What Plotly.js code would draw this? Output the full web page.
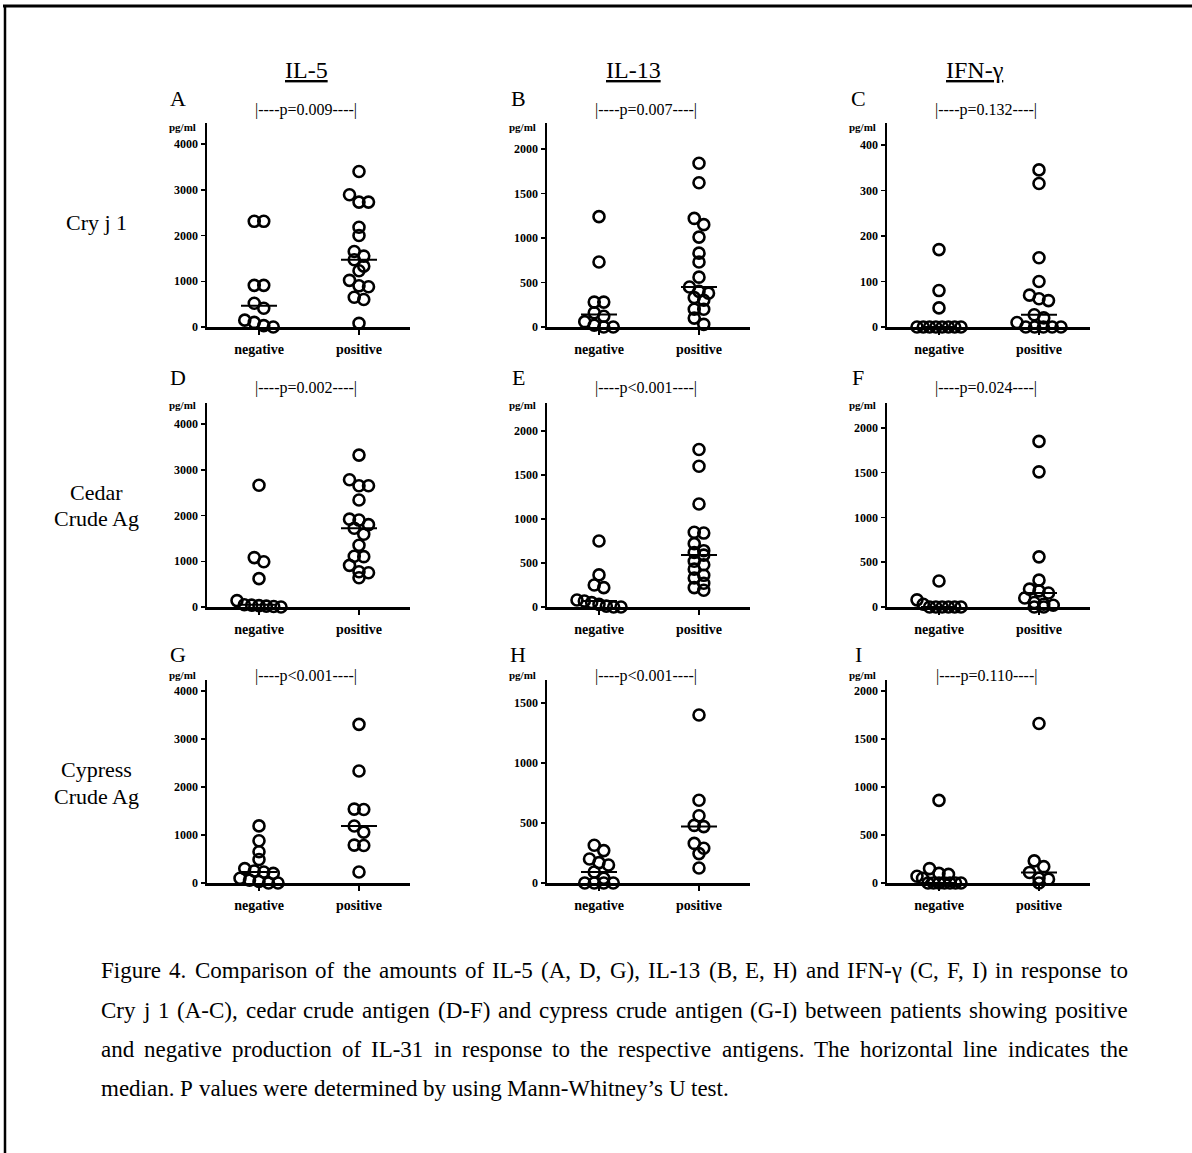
<!DOCTYPE html>
<html>
<head>
<meta charset="utf-8">
<script src="https://cdn.plot.ly/plotly-3.0.1.min.js"></script>
<style>html,body{margin:0;padding:0;background:#fff;overflow:hidden;}#chart{width:1192px;height:1153px;}</style>
</head>
<body>
<div id="chart"></div>
<script>
// ---------------- DATA ----------------
const categories = ['negative', 'positive'];
const columnTitles = ['IL-5', 'IL-13', 'IFN-γ'];
const rowLabels = [['Cry j 1'], ['Cedar', 'Crude Ag'], ['Cypress', 'Crude Ag']];
const panelLetters = ['A', 'B', 'C', 'D', 'E', 'F', 'G', 'H', 'I'];
const pValues = ['p=0.009', 'p=0.007', 'p=0.132', 'p=0.002', 'p<0.001', 'p=0.024', 'p<0.001', 'p<0.001', 'p=0.110'];
const yUnit = 'pg/ml';

// Cry j 1
const A_negative = [2310, 2310, 910, 910, 520, 410, 150, 100, 30, 0];
const A_positive = [3400, 2890, 2730, 2730, 2180, 2000, 1650, 1550, 1470, 1330, 1230, 1020, 900, 880, 650, 600, 80];
const B_negative = [1240, 730, 280, 280, 160, 120, 60, 20, 0, 0];
const B_positive = [1840, 1620, 1220, 1150, 1010, 830, 730, 560, 450, 400, 380, 330, 300, 200, 200, 100, 30];
const C_negative = [170, 80, 42, 0, 0, 0, 0, 0, 0, 0, 0];
const C_positive = [345, 315, 152, 100, 70, 62, 58, 27, 20, 10, 0, 0, 0, 0, 0];
// Cedar crude Ag
const D_negative = [2660, 1080, 990, 620, 140, 50, 40, 30, 20, 10, 0];
const D_positive = [3320, 2780, 2650, 2650, 2340, 1920, 1900, 1800, 1720, 1590, 1350, 1110, 1100, 910, 770, 750, 640];
const E_negative = [750, 365, 250, 220, 80, 68, 50, 30, 10, 0, 0];
const E_positive = [1790, 1600, 1170, 850, 840, 720, 640, 620, 590, 520, 480, 430, 360, 330, 270, 220, 190];
const F_negative = [290, 80, 30, 0, 0, 0, 0, 0, 0];
const F_positive = [1850, 1510, 560, 300, 200, 180, 157, 100, 50, 30, 20, 0, 0];
// Cypress crude Ag
const G_negative = [1190, 880, 650, 490, 300, 250, 229, 200, 100, 60, 30, 0, 0];
const G_positive = [3305, 2333, 1540, 1530, 1187, 1060, 790, 780, 230];
const H_negative = [315, 270, 200, 170, 150, 92, 40, 0, 0, 0, 0];
const H_positive = [1400, 690, 560, 480, 470, 330, 290, 245, 125];
const I_negative = [860, 150, 100, 90, 70, 50, 0, 0, 0, 0, 0, 0, 0];
const I_positive = [1660, 230, 170, 110, 50, 40, 0];

// tick labels
const ticks4000 = [0, 1000, 2000, 3000, 4000];
const ticks2000 = [0, 500, 1000, 1500, 2000];
const ticks1500 = [0, 500, 1000, 1500];
const ticks400 = [0, 100, 200, 300, 400];

const captionLines = [
  'Figure 4. Comparison of the amounts of IL-5 (A, D, G), IL-13 (B, E, H) and IFN-γ (C, F, I) in response to',
  'Cry j 1 (A-C), cedar crude antigen (D-F) and cypress crude antigen (G-I) between patients showing positive',
  'and negative production of IL-31 in response to the respective antigens. The horizontal line indicates the',
  'median. P values were determined by using Mann-Whitney’s U test.'
];

// ---------------- LAYOUT / GEOMETRY ----------------
const W = 1192, H = 1153;
const px = x => x / W;
const py = y => 1 - y / H;
const SERIF = '"Liberation Serif", "Times New Roman", serif';

const panelData = [
  [A_negative, A_positive], [B_negative, B_positive], [C_negative, C_positive],
  [D_negative, D_positive], [E_negative, E_positive], [F_negative, F_positive],
  [G_negative, G_positive], [H_negative, H_positive], [I_negative, I_positive]
];
const panelTicks = [ticks4000, ticks2000, ticks400, ticks4000, ticks2000, ticks2000, ticks4000, ticks1500, ticks2000];
const panelYMax = [4459, 2292, 448, 4459, 2318, 2279, 4229, 1692, 2113];

const axisX = [207, 547, 887];      // pixel x of y-axis line
const axisLen = 203;                 // pixel length of x-axis
const zeroY = [327, 607, 883];       // pixel y of zero line
const topY = [123, 403, 680];        // pixel y of axis top
const catPx = 100;                   // pixels per category unit
const xRange = [-0.52, 1.51];

// Prism-like column scatter layout (computed from values in pixel space)
function swarmOffsets(values, pxPerUnit) {
  const ROW_GAP = 7.5, SPACING = 9.5, MAX_SPAN = 44;
  const idx = values.map((v, i) => i).sort((a, b) => values[b] - values[a]);
  const offs = new Array(values.length).fill(0);
  const rows = [];
  let cur = null;
  idx.forEach(i => {
    const yp = values[i] * pxPerUnit;
    if (cur && cur.y0 - yp < ROW_GAP) cur.items.push(i);
    else { cur = { y0: yp, items: [i] }; rows.push(cur); }
  });
  rows.forEach(r => {
    const n = r.items.length;
    if (n < 2) return;
    const sp = Math.min(SPACING, MAX_SPAN / (n - 1));
    r.items.forEach((i, k) => { offs[i] = (k - (n - 1) / 2) * sp / catPx; });
  });
  return offs;
}
function median(arr) {
  const s = arr.slice().sort((a, b) => a - b);
  const n = s.length;
  return n % 2 ? s[(n - 1) / 2] : (s[n / 2 - 1] + s[n / 2]) / 2;
}

const traces = [];
const layout = {
  width: W, height: H,
  margin: { l: 0, r: 0, t: 0, b: 0 },
  paper_bgcolor: '#ffffff', plot_bgcolor: 'rgba(0,0,0,0)',
  showlegend: false, hovermode: false,
  font: { family: SERIF, color: '#000' },
  annotations: [], shapes: []
};

for (let k = 0; k < 9; k++) {
  const r = Math.floor(k / 3), c = k % 3;
  const sfx = k === 0 ? '' : String(k + 1);
  const xa = 'x' + sfx, ya = 'y' + sfx;
  const yMax = panelYMax[k];
  const pxPerUnit = (zeroY[r] - topY[r]) / yMax;

  layout['xaxis' + sfx] = {
    domain: [px(axisX[c]), px(axisX[c] + axisLen)],
    range: xRange, anchor: ya,
    showgrid: false, zeroline: false,
    showline: true, linecolor: '#000', linewidth: 2.5,
    ticks: 'outside', ticklen: 5, tickwidth: 1.5, tickcolor: '#000',
    tickvals: [0, 1], ticktext: categories,
    ticklabelstandoff: 3,
    tickfont: { family: SERIF, size: 14, color: '#000', weight: 'bold' },
    fixedrange: true
  };
  layout['yaxis' + sfx] = {
    domain: [py(zeroY[r]), py(topY[r])],
    range: [0, yMax], anchor: xa,
    showgrid: false, zeroline: false,
    showline: true, linecolor: '#000', linewidth: 2.5,
    ticks: 'outside', ticklen: 4, tickwidth: 1.5, tickcolor: '#000',
    tickvals: panelTicks[k], ticktext: panelTicks[k].map(String),
    tickfont: { family: SERIF, size: 12, color: '#000', weight: 'bold' },
    fixedrange: true
  };

  panelData[k].forEach((vals, g) => {
    const offs = swarmOffsets(vals, pxPerUnit);
    traces.push({
      type: 'scatter', mode: 'markers', xaxis: xa, yaxis: ya,
      x: vals.map((v, i) => g + offs[i]), y: vals,
      cliponaxis: false,
      marker: { symbol: 'circle-open', size: 11, color: '#000', line: { width: 2.6, color: '#000' } }
    });
    const m = median(vals);
    traces.push({
      type: 'scatter', mode: 'lines', xaxis: xa, yaxis: ya,
      x: [g - 0.18, g + 0.18], y: [m, m], cliponaxis: false,
      line: { color: '#000', width: 2 }
    });
  });

  // panel letter
  layout.annotations.push({
    xref: 'paper', yref: 'paper', x: px(axisX[c] - 29), y: py(98 + r * 279 - (r === 2 ? 2 : 0)),
    text: panelLetters[k], showarrow: false, xanchor: 'center', yanchor: 'middle',
    font: { family: SERIF, size: 22, color: '#000' }
  });
  // p value bracket
  layout.annotations.push({
    xref: 'paper', yref: 'paper', x: px(axisX[c] + 99), y: py([110, 388, 676][r]),
    text: '|----' + pValues[k] + '----|', showarrow: false, xanchor: 'center', yanchor: 'middle',
    font: { family: SERIF, size: 16, color: '#000' }
  });
  // unit
  layout.annotations.push({
    xref: 'paper', yref: 'paper', x: px(axisX[c] - 25), y: py([127, 405, 675][r]),
    text: yUnit, showarrow: false, xanchor: 'center', yanchor: 'middle',
    font: { family: SERIF, size: 11, color: '#000', weight: 'bold' }
  });
}

// column headers
[306, 633, 975].forEach((x, c) => {
  layout.annotations.push({
    xref: 'paper', yref: 'paper', x: px(x), y: py(70),
    text: '<u>' + columnTitles[c] + '</u>', showarrow: false, xanchor: 'center', yanchor: 'middle',
    font: { family: SERIF, size: 24, color: '#000' }
  });
});

// row labels
const rowLabelY = [[222], [492, 518], [769, 796]];
rowLabels.forEach((lines, r) => {
  lines.forEach((t, i) => {
    layout.annotations.push({
      xref: 'paper', yref: 'paper', x: px(96), y: py(rowLabelY[r][i]),
      text: t, showarrow: false, xanchor: 'center', yanchor: 'middle',
      font: { family: SERIF, size: 22, color: '#000' }
    });
  });
});

// caption, justified (lines 1-3) between x0 and x1
const capSize = 23, capX0 = 100, capX1 = 1127, capY = [970, 1010, 1049, 1088];
const cnv = document.createElement('canvas').getContext('2d');
cnv.font = capSize + 'px "Liberation Serif"';
captionLines.forEach((line, li) => {
  const words = line.split(' ');
  const widths = words.map(w => cnv.measureText(w).width);
  const total = widths.reduce((a, b) => a + b, 0);
  const justify = li < captionLines.length - 1;
  const gap = justify ? (capX1 - capX0 - total) / (words.length - 1) : cnv.measureText(' ').width;
  let x = capX0;
  words.forEach((w, i) => {
    layout.annotations.push({
      xref: 'paper', yref: 'paper', x: px(x), y: py(capY[li]),
      text: w, showarrow: false, xanchor: 'left', yanchor: 'middle',
      borderpad: 0,
      font: { family: SERIF, size: capSize, color: '#000' }
    });
    x += widths[i] + gap;
  });
});

// outer frame (top and left edges visible in the reference)
layout.shapes.push(
  { type: 'line', xref: 'paper', yref: 'paper', x0: px(3), x1: px(1192), y0: py(6), y1: py(6), line: { color: '#000', width: 3 } },
  { type: 'line', xref: 'paper', yref: 'paper', x0: px(5), x1: px(5), y0: py(6), y1: py(1153), line: { color: '#000', width: 2.5 } }
);

Plotly.newPlot('chart', traces, layout, { staticPlot: true, displayModeBar: false });
</script>
</body>
</html>
